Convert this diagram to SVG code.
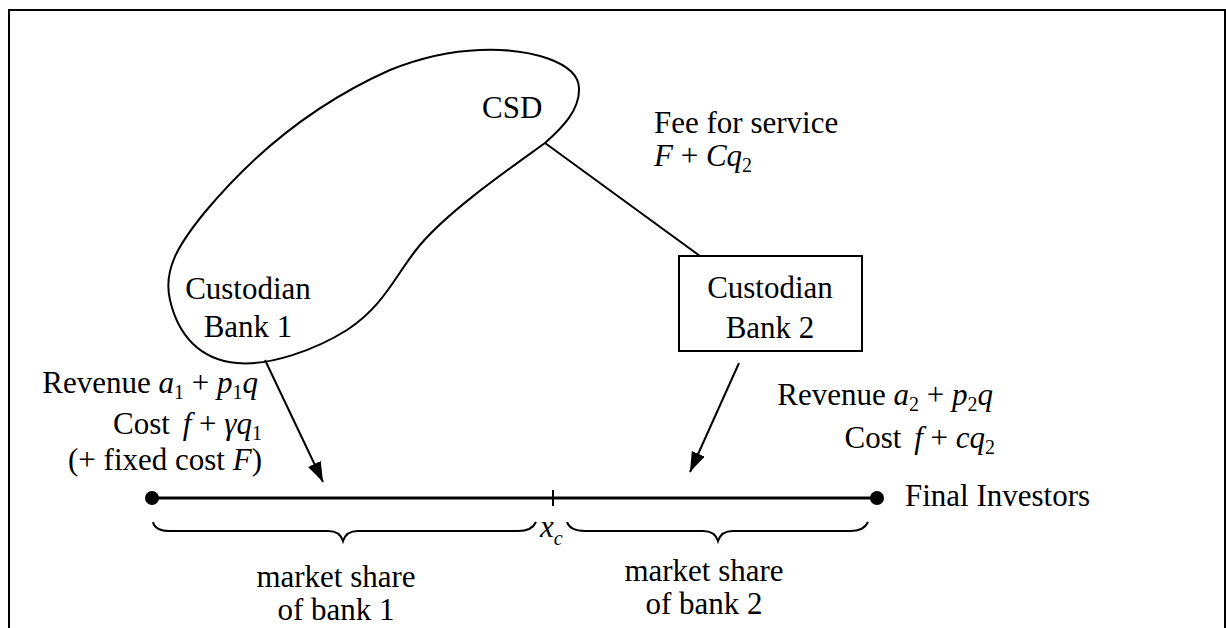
<svg xmlns="http://www.w3.org/2000/svg" width="1226" height="628" viewBox="0 0 1226 628">
<style>
text{font-family:"Liberation Serif","Tinos","DejaVu Serif","Noto Serif",serif;font-size:31px;fill:#000}
.i{font-style:italic}
.sub{font-size:20px}
.ln{fill:none;stroke:#000;stroke-width:2}
</style>
<defs>
<marker id="ah2" viewBox="0 0 20 14" refX="20" refY="7" markerWidth="20" markerHeight="14" markerUnits="userSpaceOnUse" orient="auto">
<path d="M0,0 L20,7 L0,14 z" fill="#000"/>
</marker>
</defs>
<rect width="1226" height="628" fill="#fff"/>
<path class="ln" d="M9,630 V10 H1225 V630"/>

<g id="csd-group">
<path class="ln" d="M480,50 C530,48 578,62 579,88 C580,110 562,128 545,143 C505,172 450,210 420,245 C395,275 385,305 347,330 C315,350 270,366 237,363 C200,360 178,335 170,300 C163,270 178,245 205,212 C240,170 300,110 390,70 C420,58 450,51 480,50 Z"/>
<text x="482" y="118">CSD</text>
</g>

<g id="bank1">
<text x="248" y="299" text-anchor="middle">Custodian</text>
<text x="248" y="337" text-anchor="middle">Bank 1</text>
</g>

<g id="bank2">
<rect class="ln" x="679" y="256" width="183" height="95"/>
<text x="770" y="298" text-anchor="middle">Custodian</text>
<text x="770" y="338" text-anchor="middle">Bank 2</text>
</g>

<g id="fee">
<text x="654" y="133">Fee for service</text>
<text x="654" y="166"><tspan class="i">F</tspan> + <tspan class="i">Cq</tspan><tspan class="sub" dy="6">2</tspan></text>
</g>

<g id="bank1-terms">
<text x="258" y="393" text-anchor="end">Revenue <tspan class="i">a</tspan><tspan class="sub" dy="6">1</tspan><tspan dy="-6"> + </tspan><tspan class="i">p</tspan><tspan class="sub" dy="6">1</tspan><tspan class="i" dy="-6">q</tspan></text>
<text x="262" y="434" text-anchor="end">Cost <tspan class="i" dx="5">f</tspan> + <tspan class="i">γq</tspan><tspan class="sub" dy="6">1</tspan></text>
<text x="262" y="470" text-anchor="end">(+ fixed cost <tspan class="i">F</tspan>)</text>
</g>

<g id="bank2-terms">
<text x="993" y="405" text-anchor="end">Revenue <tspan class="i">a</tspan><tspan class="sub" dy="6">2</tspan><tspan dy="-6"> + </tspan><tspan class="i">p</tspan><tspan class="sub" dy="6">2</tspan><tspan class="i" dy="-6">q</tspan></text>
<text x="995" y="448" text-anchor="end">Cost <tspan class="i" dx="5">f</tspan> + <tspan class="i">cq</tspan><tspan class="sub" dy="6">2</tspan></text>
</g>

<g id="investors">
<line x1="152" y1="498" x2="877" y2="498" stroke="#000" stroke-width="3"/>
<circle cx="152" cy="498" r="7" fill="#000"/>
<circle cx="877" cy="498" r="7" fill="#000"/>
<line x1="553" y1="490" x2="553" y2="506" stroke="#000" stroke-width="2"/>
<text x="905" y="506">Final Investors</text>
<text x="540" y="537" class="i">x<tspan class="sub" dy="8">c</tspan></text>
</g>

<g id="share1">
<path class="ln" d="M153,522 Q155,531 170,531 H328 Q340,531 343,541 Q346,531 358,531 H518 Q532,531 536,522"/>
<text x="336" y="587" text-anchor="middle">market share</text>
<text x="336" y="620" text-anchor="middle">of bank 1</text>
</g>

<g id="share2">
<path class="ln" d="M567,522 Q570,531 585,531 H703 Q715,531 718,541 Q721,531 733,531 H850 Q864,531 868,522"/>
<text x="704" y="581" text-anchor="middle">market share</text>
<text x="704" y="614" text-anchor="middle">of bank 2</text>
</g>

<g id="connectors">
<line class="ln" x1="545" y1="143" x2="700" y2="256"/>
<line class="ln" x1="265" y1="360" x2="323" y2="482" marker-end="url(#ah2)"/>
<line class="ln" x1="739" y1="363" x2="690" y2="472" marker-end="url(#ah2)"/>
</g>
</svg>
